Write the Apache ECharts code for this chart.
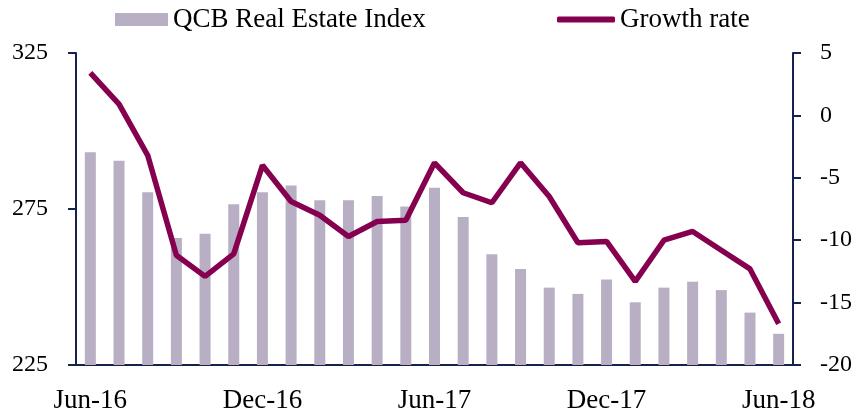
<!DOCTYPE html>
<html>
<head>
<meta charset="utf-8">
<script src="https://cdn.jsdelivr.net/npm/echarts@6/dist/echarts.min.js"></script>
<style>
  html, body { margin: 0; padding: 0; background: #fff; }
  #chart { width: 858px; height: 414px; }
</style>
</head>
<body>
<div id="chart"></div>
<script>
// monthly data, Jun-16 .. Jun-18
const months = ['Jun-16', 'Jul-16', 'Aug-16', 'Sep-16', 'Oct-16', 'Nov-16', 'Dec-16',
  'Jan-17', 'Feb-17', 'Mar-17', 'Apr-17', 'May-17', 'Jun-17', 'Jul-17', 'Aug-17',
  'Sep-17', 'Oct-17', 'Nov-17', 'Dec-17', 'Jan-18', 'Feb-18', 'Mar-18', 'Apr-18',
  'May-18', 'Jun-18'];
const indexValues = [293.2, 290.5, 280.4, 265.7, 267.1, 276.5, 280.4, 282.5, 277.8,
  277.8, 279.2, 275.8, 281.8, 272.4, 260.5, 255.8, 249.8, 247.8, 252.4, 245.1,
  249.8, 251.7, 249.0, 241.8, 235.0];
const growthRate = [3.4, 0.9, -3.2, -11.2, -12.9, -11.1, -4.0, -6.9, -8.0, -9.7,
  -8.5, -8.4, -3.8, -6.2, -7.0, -3.8, -6.5, -10.2, -10.1, -13.3, -10.0, -9.3,
  -10.8, -12.3, -16.7];
const leftTicks = { min: 225, max: 325, step: 50 };
const rightTicks = { min: -20, max: 5, step: 5 };

const font = 'Liberation Serif';
const axisColor = '#14234b';
const barColor = '#b9afc4';
const lineColor = '#860050';

const chart = echarts.init(document.getElementById('chart'));
chart.setOption({
  animation: false,
  textStyle: { fontFamily: font, color: '#000' },
  legend: [
    {
      data: [{ name: 'QCB Real Estate Index', icon: 'rect' }],
      left: 115, top: 6, padding: 0,
      itemWidth: 53, itemHeight: 13,
      textStyle: { fontFamily: font, fontSize: 27, color: '#000' }
    },
    {
      data: [{ name: 'Growth rate', icon: 'roundRect' }],
      left: 557, top: 6, padding: 0,
      itemWidth: 58, itemHeight: 6,
      textStyle: { fontFamily: font, fontSize: 27, color: '#000' }
    }
  ],
  grid: { left: 76, right: 65, top: 53, bottom: 49 },
  xAxis: {
    type: 'category',
    data: months,
    boundaryGap: true,
    axisLine: { onZero: false, lineStyle: { color: axisColor, width: 2 } },
    axisTick: { show: false },
    axisLabel: { interval: 5, margin: 22, fontSize: 27, fontFamily: font, color: '#000' }
  },
  yAxis: [
    {
      type: 'value',
      min: leftTicks.min, max: leftTicks.max, interval: leftTicks.step,
      splitLine: { show: false },
      axisLine: { show: true, lineStyle: { color: axisColor, width: 2 } },
      axisTick: { show: true, length: 8, lineStyle: { color: axisColor, width: 2 } },
      axisLabel: { margin: 28, fontSize: 24, fontFamily: font, color: '#000' }
    },
    {
      type: 'value',
      position: 'right',
      min: rightTicks.min, max: rightTicks.max, interval: rightTicks.step,
      splitLine: { show: false },
      axisLine: { show: true, lineStyle: { color: axisColor, width: 2 } },
      axisTick: { show: true, length: 8, lineStyle: { color: axisColor, width: 2 } },
      axisLabel: { margin: 27, fontSize: 24, fontFamily: font, color: '#000' }
    }
  ],
  series: [
    {
      name: 'QCB Real Estate Index',
      type: 'bar',
      yAxisIndex: 0,
      data: indexValues,
      barWidth: 11,
      itemStyle: { color: barColor }
    },
    {
      name: 'Growth rate',
      type: 'line',
      yAxisIndex: 1,
      data: growthRate,
      symbol: 'none',
      z: 5,
      lineStyle: { color: lineColor, width: 5.5 },
      itemStyle: { color: lineColor }
    }
  ]
});
</script>
</body>
</html>
